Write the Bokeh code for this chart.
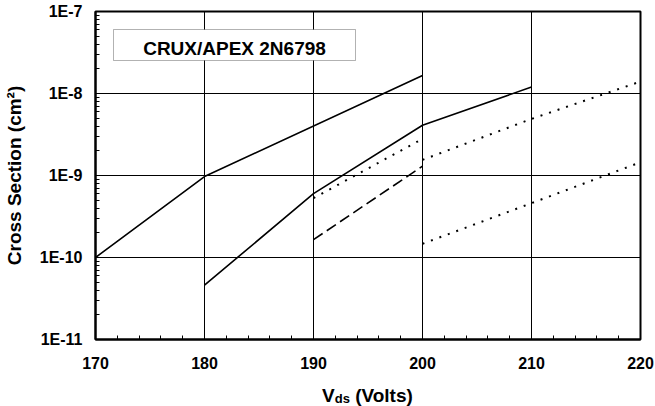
from bokeh.plotting import figure
from bokeh.models import FixedTicker, Label, BoxAnnotation, Div
from bokeh.layouts import column
from bokeh.embed import file_html
from bokeh.resources import INLINE

# ---- data ----
x_a = [170, 180, 200]
y_a = [1.0e-10, 9.7e-10, 1.66e-8]          # solid

x_b = [180, 190, 200, 210]
y_b = [4.6e-11, 6.0e-10, 4.1e-9, 1.2e-8]  # solid

x_c = [190, 200]
y_c = [5.3e-10, 2.8e-9]                    # dotted

x_d = [190, 200]
y_d = [1.65e-10, 1.3e-9]                   # dashed

x_e = [200, 210, 220]
y_e = [1.55e-9, 4.9e-9, 1.4e-8]            # dotted

x_f = [200, 210, 220]
y_f = [1.47e-10, 4.6e-10, 1.45e-9]         # dotted

x_ticks = [170, 180, 190, 200, 210, 220]
y_ticks = [1e-11, 1e-10, 1e-9, 1e-8, 1e-7]
y_tick_labels = ["1E-11", "1E-10", "1E-9", "1E-8", "1E-7"]
legend_title = "CRUX/APEX 2N6798"
y_title = "Cross Section (cm\u00b2)"
x_title_main, x_title_sub, x_title_unit = "V", "ds", "(Volts)"

FONT = "Liberation Sans"

p = figure(width=655, height=380, y_axis_type="log",
           x_range=(170, 220), y_range=(1e-11, 1e-7),
           output_backend="svg", toolbar_location=None,
           min_border_left=95, min_border_right=15,
           min_border_top=11, min_border_bottom=41)

p.background_fill_color = "white"
p.border_fill_color = "white"
p.outline_line_color = "black"
p.outline_line_width = 2

minor_y = [m * 10.0 ** e for e in range(-11, -7) for m in range(2, 10)]
p.yaxis.ticker = FixedTicker(ticks=y_ticks, minor_ticks=minor_y)
p.yaxis.major_label_overrides = {t: l for t, l in zip(y_ticks, y_tick_labels)}
minor_x = [v for v in range(170, 221, 2) if v not in x_ticks]
p.xaxis.ticker = FixedTicker(ticks=x_ticks, minor_ticks=minor_x)

for ax in (p.xaxis[0], p.yaxis[0]):
    ax.axis_line_width = 2
    ax.axis_line_color = "black"
    ax.major_tick_in = 5
    ax.major_tick_out = 0
    ax.minor_tick_in = 4
    ax.minor_tick_out = 0
    ax.major_tick_line_color = "black"
    ax.minor_tick_line_color = "black"
    ax.major_label_text_font = FONT
    ax.major_label_text_font_style = "bold"
    ax.major_label_text_font_size = "16px"
    ax.major_label_text_color = "black"

p.xaxis.major_label_standoff = 17
p.yaxis.major_label_standoff = 13

p.yaxis.axis_label = y_title
p.yaxis.axis_label_text_font = FONT
p.yaxis.axis_label_text_font_style = "bold"
p.yaxis.axis_label_text_font_size = "19px"
p.yaxis.axis_label_text_color = "black"
p.yaxis.axis_label_standoff = 12

p.xgrid.ticker = FixedTicker(ticks=x_ticks)
p.ygrid.ticker = FixedTicker(ticks=y_ticks)
for g in (p.xgrid[0], p.ygrid[0]):
    g.grid_line_color = "black"
    g.grid_line_width = 1
    g.grid_line_alpha = 1.0

p.line(x_a, y_a, line_color="black", line_width=1.6)
p.line(x_b, y_b, line_color="black", line_width=1.6)
p.line(x_c, y_c, line_color="black", line_width=2, line_dash="2 7")
p.line(x_d, y_d, line_color="black", line_width=1.6, line_dash="11 5")
p.line(x_e, y_e, line_color="black", line_width=2, line_dash="2 7")
p.line(x_f, y_f, line_color="black", line_width=2, line_dash="2 7")

# legend-title box
box = BoxAnnotation(left=18, right=260, top=310, bottom=279,
                    left_units="screen", right_units="screen",
                    top_units="screen", bottom_units="screen",
                    fill_color="white", fill_alpha=1.0,
                    line_color="black", line_width=1)
p.add_layout(box)
p.add_layout(Label(x=139, y=291, x_units="screen", y_units="screen",
                   text=legend_title, text_align="center",
                   text_baseline="alphabetic", text_font=FONT,
                   text_font_style="bold", text_font_size="19px",
                   text_color="black"))

# x-axis title V_ds (Volts) as real text under the chart
html = ('<div style="font-family:\'Liberation Sans\',Arial,sans-serif;'
        'font-weight:bold;font-size:19px;line-height:22px;color:#000;'
        'padding-left:322px;padding-top:5px;white-space:nowrap;margin:0">'
        + x_title_main
        + '<span style="font-size:13px;position:relative;top:1px">'
        + x_title_sub + '</span> ' + x_title_unit + '</div>')
xt = Div(text=html, width=655, height=26, margin=0)

layout = column(p, xt, spacing=0)
open("out.html", "w").write(file_html(layout, INLINE))
